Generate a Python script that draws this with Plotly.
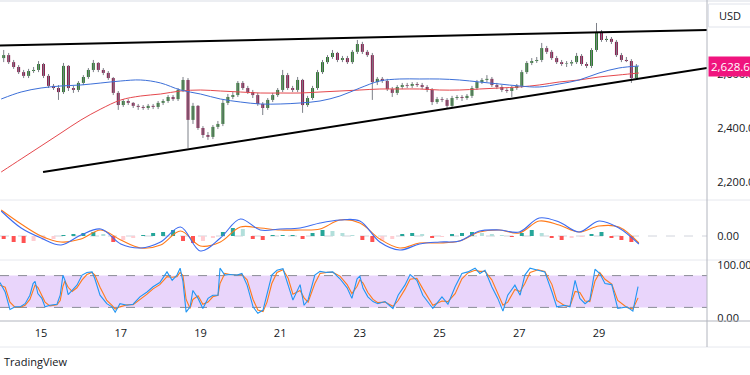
import numpy as np
import plotly.graph_objects as go

# ---------------- data ----------------
bar_start_day = 14.0625      # centre of first 3-hour bar (day of month)
bar_step_day = 0.125         # 3 hours
first_open = 2659

close = [2670, 2644, 2626, 2607, 2593, 2611, 2615, 2637, 2593, 2556,
         2548, 2533, 2630, 2548, 2541, 2567, 2589, 2615, 2641, 2615,
         2604, 2585, 2530, 2485, 2500, 2493, 2482, 2478, 2474, 2482,
         2478, 2493, 2500, 2515, 2507, 2541, 2578, 2430, 2482, 2400,
         2374, 2367, 2404, 2415, 2493, 2515, 2522, 2567, 2548, 2533,
         2522, 2489, 2474, 2504, 2522, 2541, 2596, 2548, 2541, 2578,
         2485, 2511, 2548, 2607, 2644, 2663, 2678, 2652, 2659, 2644,
         2682, 2711, 2682, 2670, 2570, 2582, 2574, 2544, 2530, 2552,
         2559, 2556, 2563, 2559, 2552, 2541, 2496, 2507, 2504, 2482,
         2511, 2515, 2511, 2519, 2548, 2570, 2578, 2582, 2559, 2552,
         2541, 2537, 2548, 2556, 2607, 2641, 2648, 2652, 2696, 2682,
         2659, 2644, 2637, 2639, 2644, 2667, 2637, 2630, 2689, 2756,
         2726, 2730, 2719, 2670, 2652, 2648, 2585, 2628.6]

high = [2689, 2678, 2652, 2633, 2615, 2619, 2626, 2648, 2641, 2600,
        2563, 2559, 2641, 2633, 2556, 2574, 2596, 2622, 2652, 2644,
        2622, 2611, 2589, 2537, 2507, 2507, 2496, 2489, 2485, 2489,
        2489, 2500, 2507, 2522, 2522, 2548, 2589, 2585, 2493, 2485,
        2407, 2385, 2411, 2426, 2504, 2526, 2533, 2574, 2574, 2556,
        2541, 2530, 2496, 2511, 2530, 2548, 2615, 2604, 2556, 2589,
        2582, 2519, 2556, 2615, 2652, 2670, 2689, 2682, 2667, 2667,
        2689, 2726, 2719, 2689, 2678, 2589, 2589, 2582, 2552, 2559,
        2567, 2567, 2570, 2570, 2567, 2559, 2548, 2515, 2515, 2511,
        2519, 2522, 2522, 2526, 2556, 2578, 2585, 2596, 2589, 2567,
        2559, 2548, 2556, 2563, 2615, 2648, 2659, 2663, 2715, 2704,
        2689, 2667, 2652, 2648, 2652, 2678, 2674, 2644, 2696, 2789,
        2763, 2741, 2737, 2726, 2678, 2663, 2655, 2637]

low = [2644, 2637, 2619, 2600, 2585, 2585, 2604, 2607, 2585, 2548,
       2541, 2504, 2526, 2537, 2530, 2533, 2559, 2582, 2607, 2607,
       2596, 2578, 2522, 2467, 2478, 2485, 2474, 2467, 2467, 2467,
       2470, 2470, 2485, 2493, 2500, 2500, 2533, 2326, 2415, 2393,
       2363, 2356, 2359, 2396, 2407, 2485, 2507, 2515, 2541, 2526,
       2511, 2482, 2448, 2467, 2496, 2515, 2533, 2541, 2533, 2533,
       2456, 2478, 2504, 2541, 2600, 2637, 2656, 2644, 2644, 2637,
       2637, 2674, 2674, 2663, 2504, 2559, 2567, 2537, 2515, 2522,
       2544, 2548, 2548, 2552, 2544, 2533, 2485, 2489, 2496, 2474,
       2474, 2504, 2500, 2504, 2511, 2541, 2563, 2570, 2552, 2544,
       2533, 2530, 2515, 2541, 2548, 2600, 2633, 2641, 2644, 2674,
       2652, 2637, 2630, 2626, 2630, 2637, 2630, 2622, 2622, 2682,
       2719, 2719, 2711, 2663, 2644, 2644, 2567, 2578]

ma_start_day = 14.0
ma_step_day = 0.5
ma_fast = [2507.4, 2533.3, 2548.1, 2555.6, 2559.3, 2566.7, 2574.1, 2577.8, 2566.7, 2540.7,
           2525.9, 2507.4, 2496.3, 2488.9, 2488.9, 2492.6, 2500.0, 2518.5, 2548.1, 2574.1,
           2581.5, 2581.5, 2581.5, 2577.8, 2570.4, 2563.0, 2555.6, 2551.9, 2563.0, 2577.8,
           2603.7, 2622.2, 2629.6]
ma_slow = [2237.0, 2285.2, 2333.3, 2381.5, 2429.6, 2470.4, 2503.7, 2518.5, 2525.9, 2537.0,
           2540.7, 2537.0, 2533.3, 2529.6, 2529.6, 2529.6, 2533.3, 2537.0, 2540.7, 2544.4,
           2544.4, 2544.4, 2540.7, 2540.7, 2544.4, 2548.1, 2551.9, 2559.3, 2570.4, 2577.8,
           2588.9, 2596.3, 2603.7]

macd_line = [25, 8, -2, -9, 1, 7, -8, -12, -6, 9, -15, -2, 17, 6, 7, 8, 13,
             16, 15, -6, -14, -8, -6, -5, 5, 6, 4, 18, 14, 4, 15, 8, -8]
macd_signal = [26, 12, 0, -6, -3, 6, -4, -12, -9, 5, -10, -6, 9, 8, 6, 6, 7,
               16, 13, -3, -12, -7, -7, -5, 4, 6, 3, 15, 11, 4, 10, 9, -7]

hist_start_day = 14.0625
hist_step_day = 0.25
macd_hist = [-3, -6, -7, -5, -4, -3, 1, 2, 3, 4,
             2, -6, -4, -2, 1, 3, 4, 6, -5, -7,
             -5, -2, 4, 8, 7, -3, -4, 1, 1, 1,
             -3, 3, 6, 5, 3, 1, -4, -6, -5, -3,
             2, 3, 2, -2, -1, 2, 3, 4, 3, 2,
             1, -1, 3, 6, 3, -2, -4, -2, -1, 2,
             4, -2, -4, -6]

stoch_days = [13.97, 14.10, 14.22, 14.35, 14.47, 14.60, 14.72, 14.80, 14.85, 14.92,
              15.02, 15.10, 15.22, 15.40, 15.48, 15.55, 15.60, 15.68, 15.78, 15.90,
              16.03, 16.15, 16.28, 16.35, 16.48, 16.65, 16.78, 16.86, 16.98, 17.16,
              17.31, 17.48, 17.66, 17.81, 17.98, 18.16, 18.29, 18.41, 18.49, 18.56,
              18.64, 18.74, 18.81, 18.94, 19.06, 19.19, 19.31, 19.44, 19.49, 19.61,
              19.74, 19.92, 20.04, 20.17, 20.32, 20.44, 20.57, 20.67, 20.79, 20.92,
              21.07, 21.20, 21.32, 21.50, 21.60, 21.70, 21.87, 22.00, 22.17, 22.32,
              22.50, 22.68, 22.80, 22.93, 23.00, 23.08, 23.20, 23.33, 23.45, 23.63,
              23.83, 23.96, 24.13, 24.26, 24.43, 24.58, 24.83, 25.06, 25.21, 25.39,
              25.56, 25.71, 25.89, 26.01, 26.14, 26.31, 26.46, 26.59, 26.71, 26.89,
              27.02, 27.14, 27.27, 27.47, 27.64, 27.82, 27.94, 28.14, 28.27, 28.40,
              28.52, 28.65, 28.77, 28.90, 29.02, 29.15, 29.32, 29.47, 29.70, 29.85,
              29.98]
stoch_k = [67, 49, 16, 21, 21, 27, 43, 65, 69, 46,
           37, 21, 24, 26, 43, 81, 71, 44, 52, 62,
           81, 86, 87, 74, 43, 27, 21, 11, 27, 24,
           26, 40, 49, 59, 67, 87, 71, 81, 94, 69,
           11, 21, 52, 37, 18, 37, 43, 43, 94, 81,
           82, 81, 84, 62, 21, 9, 15, 43, 81, 90,
           93, 62, 34, 63, 24, 34, 81, 88, 86, 87,
           74, 57, 37, 74, 79, 56, 40, 31, 27, 31,
           18, 43, 62, 82, 71, 43, 18, 40, 26, 59,
           84, 87, 94, 84, 90, 59, 37, 13, 43, 62,
           43, 81, 94, 90, 87, 49, 21, 24, 21, 71,
           37, 27, 34, 92, 84, 65, 63, 18, 21, 13,
           59]
stoch_d = [62, 58, 30, 20, 20, 24, 35, 52, 62, 58,
           44, 30, 23, 25, 33, 60, 70, 58, 50, 57,
           72, 82, 86, 81, 58, 33, 24, 17, 21, 25,
           25, 34, 45, 55, 63, 78, 77, 78, 86, 80,
           35, 18, 35, 42, 26, 30, 40, 43, 65, 84,
           82, 81, 82, 72, 35, 15, 12, 30, 65, 86,
           91, 75, 45, 52, 38, 30, 65, 84, 86, 86,
           79, 63, 46, 60, 72, 66, 48, 35, 29, 30,
           22, 33, 54, 73, 75, 55, 24, 32, 31, 46,
           74, 85, 90, 88, 88, 72, 47, 24, 30, 54,
           50, 65, 86, 91, 88, 63, 33, 23, 22, 50,
           48, 32, 31, 70, 86, 73, 64, 33, 20, 17,
           38]

upper_trend_days = [13.97, 31.71]
upper_trend_price = [2705.5, 2763.0]
lower_trend_days = [15.05, 31.71]
lower_trend_price = [2237.0, 2622.2]

x_tick_days = [15, 17, 19, 21, 23, 25, 27, 29]
x_tick_labels = ["15", "17", "19", "21", "23", "25", "27", "29"]
price_ticks = [2200, 2400, 2600]
last_price = 2628.6
stoch_levels = [20, 80]

# ---------------- derived series ----------------
n = len(close)
t = bar_start_day + bar_step_day * np.arange(n)
opn = [first_open] + close[:-1]
ma_t = ma_start_day + ma_step_day * np.arange(len(ma_fast))
hist_t = hist_start_day + hist_step_day * np.arange(len(macd_hist))

UP, DOWN, WICK = "#2e7a30", "#8a1d4f", "#7d8088"
body_base = [min(o, c) for o, c in zip(opn, close)]
body_h = [max(abs(c - o), 0.8) for o, c in zip(opn, close)]
body_col = [UP if c >= o else DOWN for o, c in zip(opn, close)]

wx, wy = [], []
for ti, lo, hi in zip(t, low, high):
    wx += [ti, ti, None]
    wy += [lo, hi, None]

hist_col = []
prev = 0
for v in macd_hist:
    if v >= 0:
        hist_col.append("#26a69a" if v >= prev else "#b2dfdb")
    else:
        hist_col.append("#ff5252" if v <= prev else "#ffcdd2")
    prev = v

# ---------------- layout geometry ----------------
W, H = 750, 375
R, B = 43, 54
PH = H - B            # plot area height in px


def py(ypx):
    return (PH - ypx) / PH


XR = 750 / (W - R)    # paper x of right figure edge
FONT = "Open Sans"
TXT = "#131722"

fig = go.Figure()

# main pane
fig.add_trace(go.Scatter(x=wx, y=wy, mode="lines", line=dict(color=WICK, width=1),
                         yaxis="y", xaxis="x"))
fig.add_trace(go.Bar(x=t, y=body_h, base=body_base, marker=dict(color=body_col, line=dict(width=0)),
                     width=0.075, yaxis="y", xaxis="x"))
fig.add_trace(go.Scatter(x=ma_t, y=ma_slow, mode="lines", line=dict(color="#e5484d", width=1, shape="spline"),
                         yaxis="y"))
fig.add_trace(go.Scatter(x=ma_t, y=ma_fast, mode="lines", line=dict(color="#3c6fd8", width=1, shape="spline"),
                         yaxis="y"))
fig.add_trace(go.Scatter(x=upper_trend_days, y=upper_trend_price, mode="lines",
                         line=dict(color="#000000", width=2), yaxis="y"))
fig.add_trace(go.Scatter(x=lower_trend_days, y=lower_trend_price, mode="lines",
                         line=dict(color="#000000", width=2), yaxis="y"))

# MACD pane
fig.add_trace(go.Bar(x=hist_t, y=macd_hist, marker=dict(color=hist_col, line=dict(width=0)),
                     width=0.1, yaxis="y2"))
fig.add_trace(go.Scatter(x=ma_t, y=macd_signal, mode="lines", line=dict(color="#ff7a1a", width=1.1, shape="spline"),
                         yaxis="y2"))
fig.add_trace(go.Scatter(x=ma_t, y=macd_line, mode="lines", line=dict(color="#3d6cf0", width=1.1, shape="spline"),
                         yaxis="y2"))

# Stoch RSI pane
fig.add_trace(go.Scatter(x=stoch_days, y=stoch_d, mode="lines", line=dict(color="#ff7a1a", width=1.1),
                         yaxis="y3"))
fig.add_trace(go.Scatter(x=stoch_days, y=stoch_k, mode="lines", line=dict(color="#2196f3", width=1.1),
                         yaxis="y3"))

shapes = [
    dict(type="rect", xref="x domain", yref="y3", x0=0, x1=1, y0=stoch_levels[0], y1=stoch_levels[1],
         fillcolor="#e9d5fb", line=dict(width=0), layer="below"),
    dict(type="line", xref="x domain", yref="y3", x0=0, x1=1, y0=stoch_levels[1], y1=stoch_levels[1],
         line=dict(color="#8a8d96", width=1, dash="dash"), layer="below"),
    dict(type="line", xref="x domain", yref="y3", x0=0, x1=1, y0=stoch_levels[0], y1=stoch_levels[0],
         line=dict(color="#8a8d96", width=1, dash="dash"), layer="below"),
    dict(type="line", xref="x domain", yref="y2", x0=0, x1=1, y0=0, y1=0,
         line=dict(color="#d1d4dc", width=1, dash="dash"), layer="below"),
    # pane separators
    dict(type="line", xref="paper", yref="paper", x0=0, x1=XR, y0=py(200), y1=py(200),
         line=dict(color="#e6e8ee", width=1)),
    dict(type="line", xref="paper", yref="paper", x0=0, x1=XR, y0=py(260), y1=py(260),
         line=dict(color="#e6e8ee", width=1)),
    dict(type="line", xref="paper", yref="paper", x0=0, x1=XR, y0=py(1), y1=py(1),
         line=dict(color="#eceef2", width=2)),
    # time axis frame
    dict(type="line", xref="paper", yref="paper", x0=0, x1=XR, y0=0, y1=0,
         line=dict(color="#b2b5be", width=1)),
    dict(type="line", xref="paper", yref="paper", x0=0, x1=XR, y0=py(347), y1=py(347),
         line=dict(color="#e6e8ee", width=1)),
    dict(type="line", xref="paper", yref="paper", x0=1, x1=1, y0=py(347), y1=1,
         line=dict(color="#b2b5be", width=1)),
    # USD box
    dict(type="rect", xref="paper", yref="paper", x0=708.5 / (W - R), x1=XR + 0.02, y0=py(27), y1=py(4),
         fillcolor="white", line=dict(color="#e0e3eb", width=1)),
]

annotations = [
    dict(text="USD", xref="paper", yref="paper", x=1, y=py(15.5), xanchor="left", yanchor="middle",
         xshift=10, showarrow=False, font=dict(family=FONT, size=11, color=TXT)),
    dict(text=f"{last_price:,.2f}", xref="paper", yref="y", x=1, y=last_price, xanchor="left",
         yanchor="middle", xshift=1, showarrow=False, bgcolor="#f0147e", borderpad=2,
         font=dict(family=FONT, size=11.5, color="white")),
    dict(text="TradingView", xref="paper", yref="paper", x=0, y=py(361), xanchor="left", yanchor="middle",
         xshift=2, showarrow=False, font=dict(family=FONT, size=11, color=TXT)),
]

axis_common = dict(showgrid=False, zeroline=False, showline=False, side="right", anchor="x",
                   ticks="outside", ticklen=5, tickcolor="rgba(0,0,0,0)", ticklabelstandoff=2,
                   automargin=False,
                   tickfont=dict(family=FONT, size=11, color=TXT), fixedrange=True)

fig.update_layout(
    template="none",
    width=W, height=H,
    margin=dict(l=0, r=R, t=0, b=B),
    paper_bgcolor="white", plot_bgcolor="white",
    showlegend=False, hovermode=False, barmode="overlay",
    xaxis=dict(range=[13.97, 31.71], showgrid=False, zeroline=False, showline=False,
               anchor="y3", tickvals=x_tick_days, ticktext=x_tick_labels, ticks="",
               automargin=False,
               ticklabelstandoff=4, tickfont=dict(family=FONT, size=11, color=TXT), fixedrange=True),
    yaxis=dict(domain=[py(200), 1], range=[2133.3, 2874.07], tickvals=price_ticks,
               ticktext=[f"{v:,.2f}" for v in price_ticks], **axis_common),
    yaxis2=dict(domain=[py(260), py(200)], range=[-24, 36], tickvals=[0], ticktext=["0.00"],
                **axis_common),
    yaxis3=dict(domain=[0, py(260)], range=[-5.66, 109.43], tickvals=[0, 100],
                ticktext=["0.00", "100.00"], **axis_common),
    shapes=shapes, annotations=annotations,
)

fig.write_html("out.html", config={"displayModeBar": False, "staticPlot": True},
               post_script="document.body.style.margin='0px';document.body.style.overflow='hidden';")
